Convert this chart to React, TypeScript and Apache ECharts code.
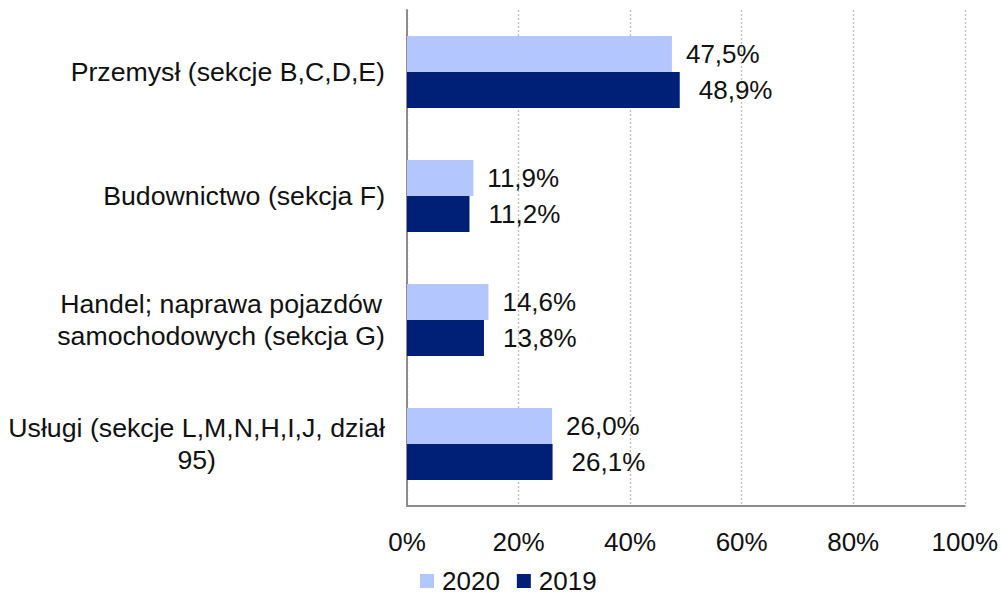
import React, { useEffect, useRef } from "react";
import * as echarts from "echarts";

const categories = [
  "Przemysł (sekcje B,C,D,E)",
  "Budownictwo (sekcja F)",
  "Handel; naprawa pojazdów\nsamochodowych (sekcja G)",
  "Usługi (sekcje L,M,N,H,I,J, dział\n95)",
];
const values2020 = [47.5, 11.9, 14.6, 26.0];
const values2019 = [48.9, 11.2, 13.8, 26.1];
const xTicks = [0, 20, 40, 60, 80, 100];

const FONT = "'Liberation Sans', Arial, sans-serif";
const FS = 26;
const YFS = 26.7;

export default function App() {
  const ref = useRef<HTMLDivElement>(null);
  useEffect(() => {
    const chart = echarts.init(ref.current!, null, { renderer: "svg" });
    const fmt = (p: any) => p.value.toFixed(1).replace(".", ",") + "%";
    chart.setOption({
      animation: false,
      textStyle: { fontFamily: FONT },
      grid: { left: 407, right: 35, top: 10, bottom: 91, containLabel: false },
      legend: {
        top: 565,
        left: 415,
        padding: [2, 5, 2, 5],
        itemWidth: 14,
        itemHeight: 14,
        itemGap: 17,
        icon: "rect",
        textStyle: { fontSize: 26, lineHeight: 28, color: "#111", fontFamily: FONT, padding: [0, 0, 0, 3] },
        data: ["2020", "2019"],
      },
      xAxis: {
        type: "value",
        min: xTicks[0],
        max: xTicks[xTicks.length - 1],
        interval: 20,
        axisLine: { show: true, lineStyle: { color: "#8c8c8c", width: 2 } },
        axisTick: { show: false },
        axisLabel: {
          formatter: "{value}%",
          fontSize: FS,
          color: "#111",
          margin: 23,
          fontFamily: FONT,
        },
        splitLine: { show: true, lineStyle: { color: "#bdbdbd", type: [2, 2], width: 1.3 } },
      },
      yAxis: {
        type: "category",
        data: categories,
        inverse: true,
        axisLine: { show: true, lineStyle: { color: "#8c8c8c", width: 2 } },
        axisTick: { show: false },
        axisLabel: {
          fontSize: YFS,
          color: "#111",
          margin: 22,
          lineHeight: 32,
          fontFamily: FONT,
          formatter: (v: string) =>
            v
              .split("\n")
              .map((l) => "{c|" + l + "}")
              .join("\n"),
          rich: { c: { align: "center", fontSize: YFS, lineHeight: 32, color: "#111", fontFamily: FONT } },
        },
      },
      series: [
        {
          name: "2020",
          type: "bar",
          data: values2020,
          barWidth: 36,
          barGap: "0%",
          itemStyle: { color: "#b3c6fd" },
          label: {
            show: true,
            position: "right",
            distance: 14,
            formatter: fmt,
            fontSize: FS,
            color: "#111",
            fontFamily: FONT,
          },
        },
        {
          name: "2019",
          type: "bar",
          data: values2019,
          barWidth: 36,
          barGap: "0%",
          itemStyle: { color: "#001f77" },
          label: {
            show: true,
            position: "right",
            distance: 19,
            formatter: fmt,
            fontSize: FS,
            color: "#111",
            fontFamily: FONT,
          },
        },
      ],
    });
    return () => chart.dispose();
  }, []);
  return (
    <div
      ref={ref}
      style={{ position: "fixed", left: 0, top: 0, width: 1001, height: 597, background: "#fff" }}
    />
  );
}
